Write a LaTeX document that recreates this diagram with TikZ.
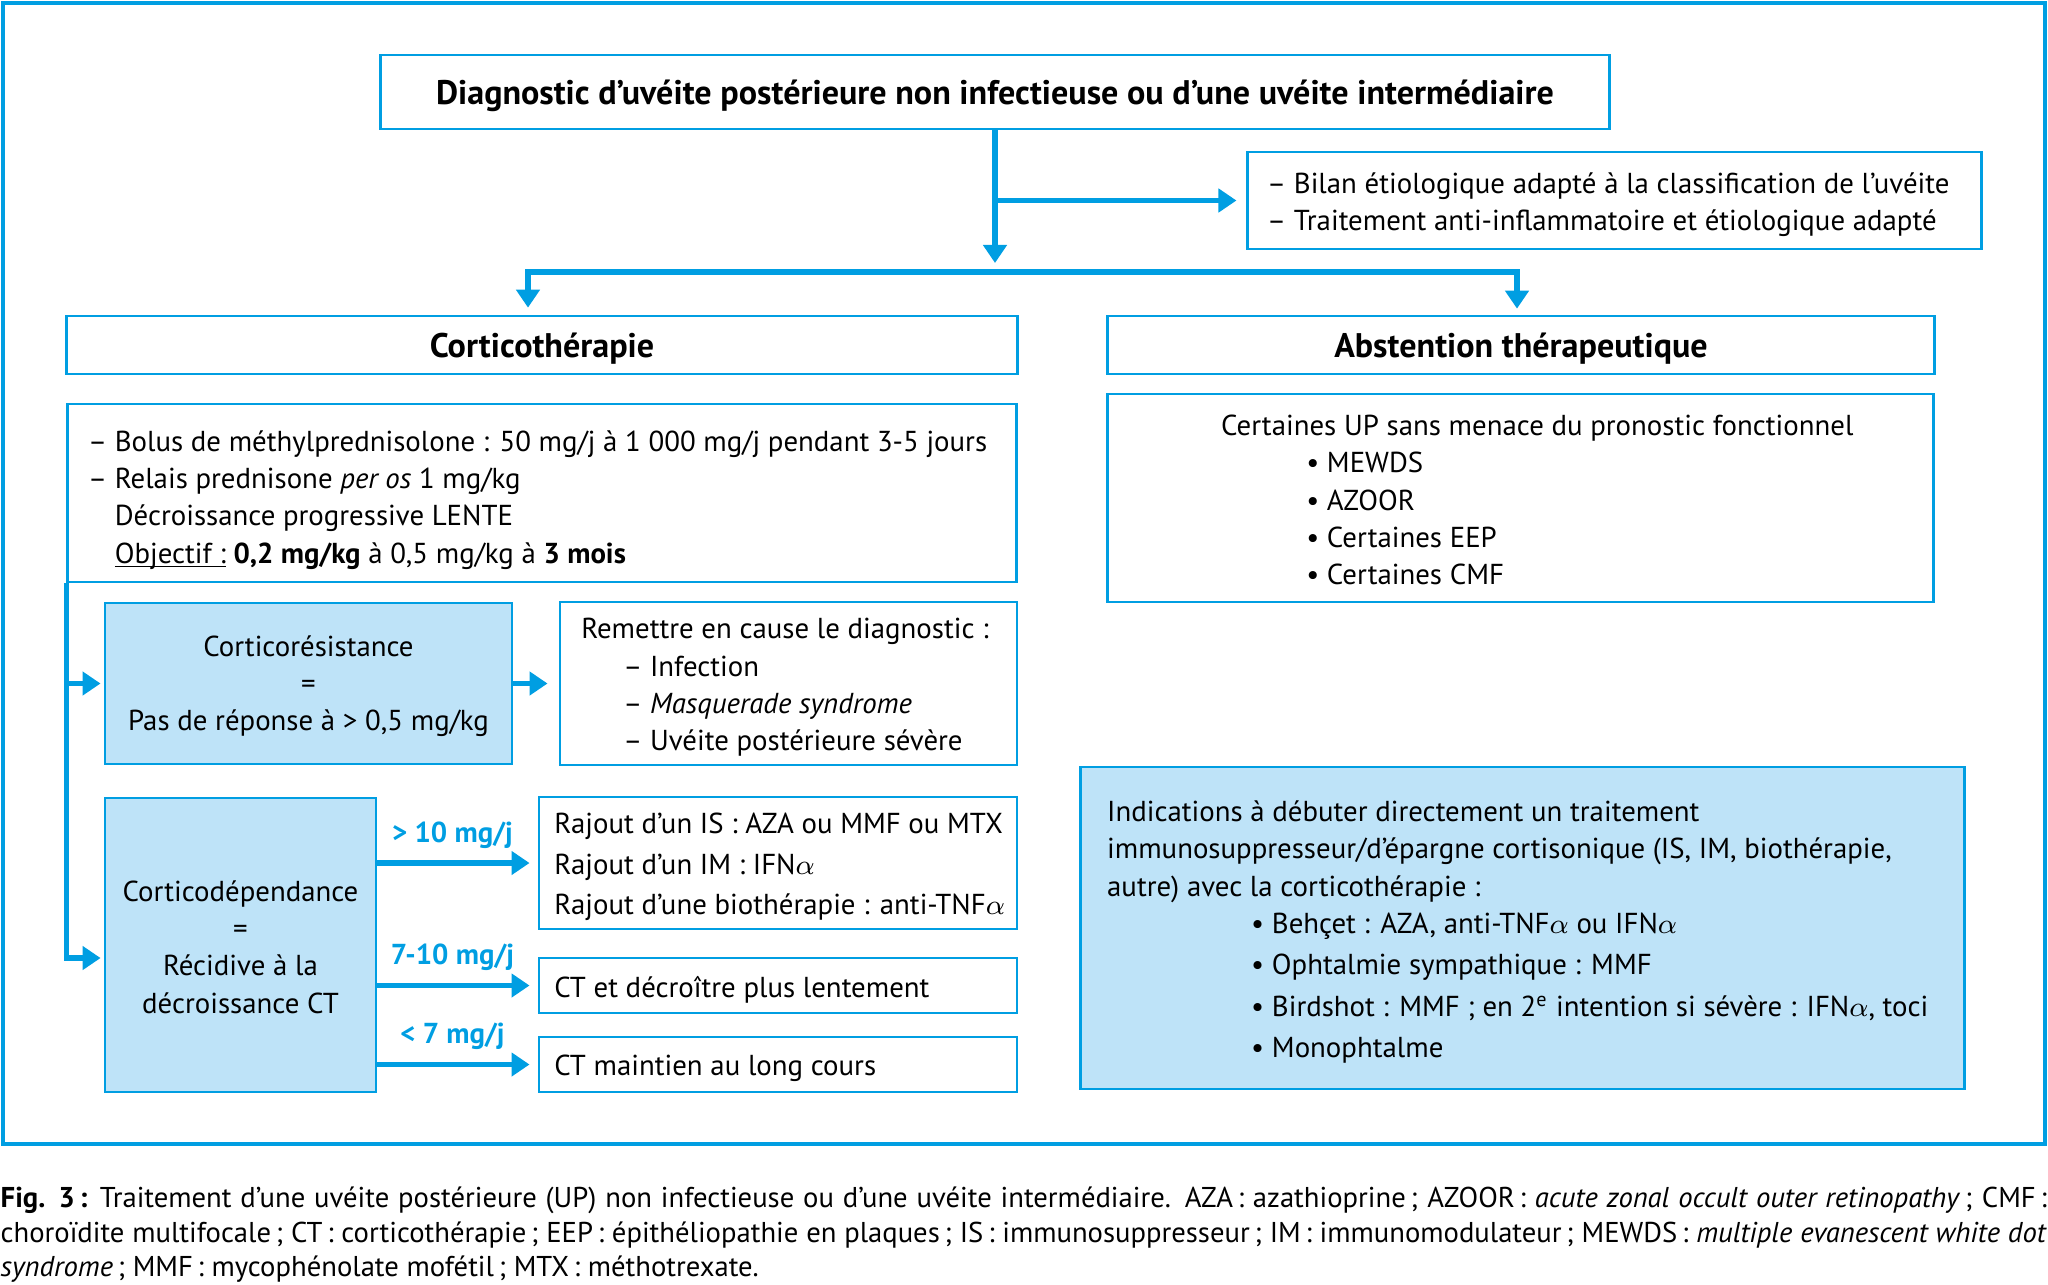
\documentclass[tikz,border=0pt]{standalone}
\usepackage{fontspec}
\setmainfont{PT Sans}
\usepackage{tikz}
\usetikzlibrary{arrows.meta,calc,positioning}
\definecolor{bleu}{RGB}{0,158,226}
\definecolor{pale}{RGB}{190,227,248}
\newcommand{\txtsize}{\fontsize{8.2}{10.6}\selectfont}
\newcommand{\titlesize}{\fontsize{9.7}{11}\selectfont}
\newcommand{\capsize}{\fontsize{8.15}{9.9}\selectfont}
\newcommand{\souligne}[1]{\setbox0\hbox{#1}\rlap{\rule[-0.14em]{\wd0}{0.06em}}\box0\relax}

\begin{document}
\begin{tikzpicture}[x=0.01cm,y=-0.01cm,
  box/.style={draw=bleu,line width=0.75pt,inner sep=0pt,font=\txtsize},
  fillbox/.style={box,fill=pale,align=center},
  txt/.style={inner sep=0pt,align=left,font=\txtsize,yshift=-0.04cm},
  titre/.style={font=\titlesize\bfseries,text depth=0pt},
  conn/.style={draw=bleu,line width=1.6pt,-{Triangle[length=1.8mm,width=2.3mm]}},
  dose/.style={font=\txtsize\bfseries,text=bleu,inner sep=0pt}]
  \useasboundingbox (0,0) rectangle (2048,1284);
  \draw[bleu,line width=1.3pt] (3,3) rectangle (2045,1144);
  % top of the tree
  \node[box,titre,minimum width=12.28cm,minimum height=0.74cm] (diag) at (995,92) {Diagnostic d’uvéite postérieure non infectieuse ou d’une uvéite intermédiaire};
  \node[box,minimum width=7.33cm,minimum height=0.97cm] (bilan) at (1614.5,200.5) {};
  \node[txt,right=0.2cm of bilan.west] (bilanT) {– Bilan étiologique adapté à la classification de l’uvéite\\– Traitement anti-inflammatoire et étiologique adapté};
  \node[box,titre,minimum width=9.50cm,minimum height=0.58cm] (cortico) at (542,345) {Corticothérapie};
  \node[box,titre,minimum width=8.26cm,minimum height=0.58cm] (absten) at (1521,345) {Abstention thérapeutique};
  \coordinate (barL) at (528,272); \coordinate (barR) at (1517,272);
  \draw[conn,shorten >=0.9mm] (diag.south) -- (diag.south |- barL);
  \draw[conn,shorten >=1mm] (diag.south |- bilan.west) -- (bilan.west);
  \draw[conn,shorten >=0.7mm] (diag.south |- barL) -| (barL |- cortico.north);
  \draw[conn,shorten >=0.6mm] (diag.south |- barL) -| (barR |- absten.north);
  % corticotherapie
  \node[box,minimum width=9.48cm,minimum height=1.78cm] (bolus) at (542,493) {};
  \node[txt,right=0.21cm of bolus.west,yshift=-0.03cm] (bolusT) {– Bolus de méthylprednisolone : 50 mg/j à 1~000 mg/j pendant 3-5 jours\\– Relais prednisone \textit{per os} 1 mg/kg\\\hphantom{–\ }Décroissance progressive LENTE\\\hphantom{–\ }\souligne{Objectif :} \textbf{0,2 mg/kg} à 0,5 mg/kg à \textbf{3 mois}};
  \node[fillbox,minimum width=4.07cm,minimum height=1.61cm] (resist) at (308.5,683.5) {};
  \node[txt,align=center,yshift=0.015cm] (resistT) at (resist) {Corticorésistance\\=\\Pas de réponse à > 0,5 mg/kg};
  \node[box,minimum width=4.57cm,minimum height=1.63cm] (remet) at (788.5,683.5) {};
  \node[txt,right=0.22cm of remet.west] (remetT) {Remettre en cause le diagnostic :\\\hspace*{0.42cm}– Infection\\\hspace*{0.42cm}– \textit{Masquerade syndrome}\\\hspace*{0.42cm}– Uvéite postérieure sévère};
  \node[fillbox,minimum width=2.71cm,minimum height=2.94cm] (depend) at (240.5,945) {};
  \node[txt,align=center,yshift=0.02cm] (dependT) at (depend) {Corticodépendance\\=\\Récidive à la\\décroissance CT};
  \node[box,minimum width=4.78cm,minimum height=1.32cm] (rajout) at (778,863) {};
  \node[box,minimum width=4.78cm,minimum height=0.55cm] (decroit) at (778,985.5) {};
  \node[box,minimum width=4.78cm,minimum height=0.55cm] (maint) at (778,1064.5) {};
  \node[txt,right=0.16cm of rajout.west] (rajoutT) {Rajout d’un IS : AZA ou MMF ou MTX\\[0.03cm]Rajout d’un IM : IFN$\alpha$\\[0.03cm]Rajout d’une biothérapie : anti-TNF$\alpha$};
  \node[txt,right=0.16cm of decroit.west] (decroitT) {CT et décroître plus lentement};
  \node[txt,right=0.16cm of maint.west] (maintT) {CT maintien au long cours};
  \draw[conn,shorten >=0.3mm] (bolus.south west) |- ([yshift=-0.13cm]depend.west);
  \draw[conn,shorten >=0.3mm] (bolus.south west |- resist.west) -- (resist.west);
  \draw[conn,shorten >=1.1mm] (resist.east) -- (remet.west);
  \foreach \b/\l in {rajout/{> 10 mg/j},decroit/{7-10 mg/j},maint/{< 7 mg/j}}
    \draw[conn,shorten >=0.8mm] (depend.east |- \b.west) -- node[dose,above=0.12cm,xshift=-0.05cm] (l\b) {\l} (\b.west);
  % abstention
  \node[box,minimum width=8.25cm,minimum height=2.08cm] (certain) at (1520.5,498) {};
  \node[txt,right=1.14cm of certain.west,yshift=0.02cm] (certainT) {Certaines UP sans menace du pronostic fonctionnel\\\hspace*{0.85cm}• MEWDS\\\hspace*{0.85cm}• AZOOR\\\hspace*{0.85cm}• Certaines EEP\\\hspace*{0.85cm}• Certaines CMF};
  \node[box,fill=pale,minimum width=8.83cm,minimum height=3.22cm] (indic) at (1522.5,928) {};
  \node[txt,right=0.27cm of indic.west] (indicT) {Indications à débuter directement un traitement\\immunosuppresseur/d’épargne cortisonique (IS, IM, biothérapie,\\autre) avec la corticothérapie :\\\hspace*{1.44cm}• Behçet : AZA, anti-TNF$\alpha$ ou IFN$\alpha$\\[0.04cm]\hspace*{1.44cm}• Ophtalmie sympathique : MMF\\[0.04cm]\hspace*{1.44cm}• Birdshot : MMF ; en 2\textsuperscript{e} intention si sévère : IFN$\alpha$, toci\\[0.04cm]\hspace*{1.44cm}• Monophtalme};
  % legend
  \node[inner sep=0pt,anchor=north west,text width=20.45cm,align=justify,font=\capsize] (legende) at (0,1186) {\textbf{Fig. 3\,:} Traitement d’une uvéite postérieure (UP) non infectieuse ou d’une uvéite intermédiaire. AZA\,: azathioprine\,; AZOOR\,: \textit{acute zonal occult outer retinopathy}\,; CMF\,:\linebreak choroïdite multifocale\,; CT\,: corticothérapie\,; EEP\,: épithéliopathie en plaques\,; IS\,: immunosuppresseur\,; IM\,: immunomodulateur\,; MEWDS\,: \textit{multiple evanescent white dot}\linebreak \textit{syndrome}\,; MMF\,: mycophénolate mofétil\,; MTX\,: méthotrexate.};
\end{tikzpicture}
\end{document}
